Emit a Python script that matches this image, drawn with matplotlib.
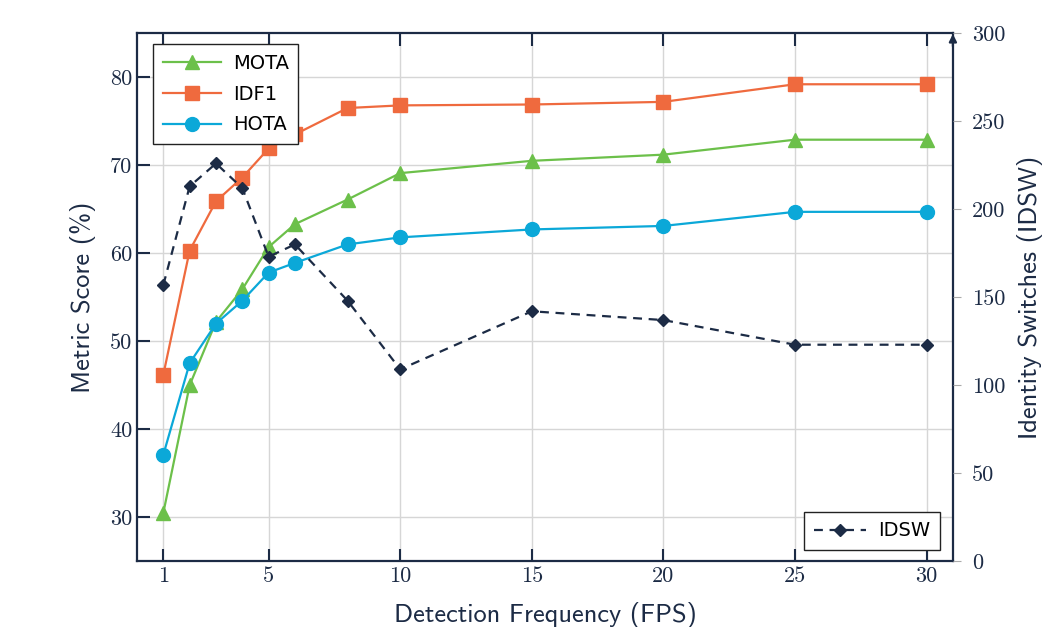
"""Tracking metrics vs detection frequency (dual axis)."""

import matplotlib
matplotlib.use("Agg")
import matplotlib.pyplot as plt

fps = [1, 2, 3, 4, 5, 6, 8, 10, 15, 20, 25, 30]
mota = [30.5, 45.0, 52.2, 55.9, 60.7, 63.3, 66.1, 69.1, 70.5, 71.2, 72.9, 72.9]
idf1 = [46.2, 60.3, 65.9, 68.6, 71.9, 73.5, 76.5, 76.8, 76.9, 77.2, 79.2, 79.2]
hota = [37.1, 47.5, 52.0, 54.6, 57.8, 58.9, 61.0, 61.8, 62.7, 63.1, 64.7, 64.7]
idsw = [157, 213, 226, 212, 173, 180, 148, 109, 142, 137, 123, 123]

x_ticks = [1, 5, 10, 15, 20, 25, 30]
left_ticks = [30, 40, 50, 60, 70, 80]
right_ticks = [0, 50, 100, 150, 200, 250, 300]

NAVY = "#1c2b45"
GREEN = "#6cc04a"
ORANGE = "#ef6a3e"
CYAN = "#0ba8d8"
GRID = "#d6d6d6"

fig = plt.figure(figsize=(10.46, 6.27), dpi=100)
ax = fig.add_axes([0.131, 0.105, 0.780, 0.842])

ax.plot(fps, mota, "-^", color=GREEN, lw=1.6, ms=9.5, label="MOTA")
ax.plot(fps, idf1, "-s", color=ORANGE, lw=1.6, ms=9.5, label="IDF1")
ax.plot(fps, hota, "-o", color=CYAN, lw=1.6, ms=10, label="HOTA")

ax.set_xlim(0, 31)
ax.set_ylim(25, 85)
ax.set_xticks(x_ticks)
ax.set_yticks(left_ticks)
ax.grid(True, color=GRID, lw=1.0)
ax.set_axisbelow(True)
ax.tick_params(direction="in", length=9, width=1.5, color=NAVY,
               top=True, right=True, labelsize=16, labelcolor=NAVY)
for lab in ax.get_xticklabels() + ax.get_yticklabels():
    lab.set_family("cmr10")
for sp in ax.spines.values():
    sp.set_color(NAVY)
    sp.set_linewidth(1.6)

ax.set_xlabel("Detection Frequency (FPS)", family="cmss10", fontsize=19,
              color=NAVY, labelpad=12)
ax.set_ylabel("Metric Score (%)", family="cmss10", fontsize=19,
              color=NAVY, labelpad=10)

leg = ax.legend(loc="upper left", bbox_to_anchor=(0.0196, 0.979), fontsize=14,
                fancybox=False, framealpha=1, edgecolor="#222222",
                handlelength=3, borderpad=0.5, labelspacing=0.6,
                handletextpad=0.6, borderaxespad=0)
leg.get_frame().set_linewidth(1.0)

ax2 = ax.twinx()
ax2.plot(fps, idsw, "--D", color=NAVY, lw=1.6, ms=6, dashes=(4, 3),
         label="IDSW")
ax2.set_ylim(0, 300)
ax2.set_yticks(right_ticks)
ax2.tick_params(direction="out", length=6, width=0.8, color="#aaaaaa",
                labelsize=16, labelcolor=NAVY, pad=8)
for lab in ax2.get_yticklabels():
    lab.set_family("cmr10")
for sp in ax2.spines.values():
    sp.set_visible(False)
ax2.set_ylabel("Identity Switches (IDSW)", family="cmss10", fontsize=19,
               color=NAVY, labelpad=8)
ax2.annotate("", xy=(1, 1.004), xytext=(1, 0.97), xycoords="axes fraction",
             arrowprops=dict(arrowstyle="-|>", color=NAVY, lw=1.6,
                             mutation_scale=11))

leg2 = ax2.legend(loc="lower right", bbox_to_anchor=(0.984, 0.021),
                  fontsize=14, fancybox=False, framealpha=1,
                  edgecolor="#222222", handlelength=2.7, borderpad=0.5,
                  handletextpad=0.6, borderaxespad=0)
leg2.get_frame().set_linewidth(1.0)

fig.savefig("out.png", dpi=100)
